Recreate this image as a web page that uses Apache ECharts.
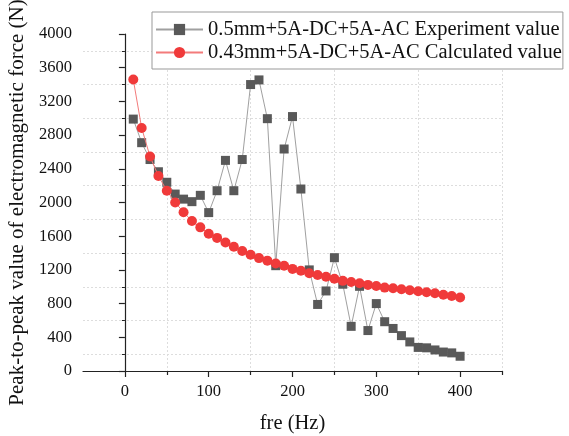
<!DOCTYPE html>
<html>
<head>
<meta charset="utf-8">
<script src="https://cdn.jsdelivr.net/npm/echarts@6/dist/echarts.min.js"></script>
<style>html,body{margin:0;padding:0;background:#fff}#c{width:569px;height:436px}</style>
</head>
<body>
<div id="c"></div>
<script>
var freq = [10,20,30,40,50,60,70,80,90,100,110,120,130,140,150,160,170,180,190,200,210,220,230,240,250,260,270,280,290,300,310,320,330,340,350,360,370,380,390,400];
var experimentValues = [2990,2710,2510,2365,2240,2100,2040,2010,2085,1880,2140,2500,2140,2510,3400,3455,2995,1250,2635,3020,2160,1200,790,950,1345,1030,530,1005,480,800,585,505,420,345,280,275,250,225,215,175];
var calculatedValues = [3460,2885,2545,2315,2140,2000,1885,1780,1705,1630,1580,1525,1475,1425,1380,1340,1310,1275,1250,1212,1190,1160,1140,1118,1096,1070,1056,1041,1022,1009,990,982,970,958,946,934,922,906,890,872];
var xLabelValues = [0,100,200,300,400];
var xMinorValues = [50,150,250,350,450];
var seriesNames = ['0.5mm+5A-DC+5A-AC Experiment value','0.43mm+5A-DC+5A-AC Calculated value'];

function pairs(xs, ys){ return xs.map(function(x,i){ return [x, ys[i]]; }); }
function plain(v){ return String(v); }

var font = 'Liberation Serif';
var chart = echarts.init(document.getElementById('c'), null, {renderer:'canvas'});
chart.setOption({
  animation: false,
  backgroundColor: '#fff',
  textStyle: {fontFamily: font},
  grid: {left: 83, top: 34, right: 67, bottom: 65, outerBoundsMode: 'none', containLabel: false},
  legend: {
    orient: 'vertical', left: 152, top: 12,
    padding: [7, 1, 6, 3],
    itemWidth: 47, itemHeight: 14, itemGap: 2,
    backgroundColor: '#fff', borderColor: '#999', borderWidth: 1,
    textStyle: {fontFamily: font, fontSize: 20.5, color: '#111', lineHeight: 20, height: 20},
    data: seriesNames
  },
  xAxis: [{
    type: 'value', min: -50, max: 450,
    name: 'fre (Hz)', nameLocation: 'middle', nameGap: 42,
    nameTextStyle: {fontFamily: font, fontSize: 20.5, color: '#111'},
    axisLine: {show: true, onZero: false, lineStyle: {color: '#222', width: 1.2}},
    axisTick: {show: true, customValues: xLabelValues, length: 6, lineStyle: {color: '#222', width: 1.2}},
    axisLabel: {customValues: xLabelValues, formatter: plain, fontFamily: font, fontSize: 16.5, color: '#111', margin: 12},
    splitLine: {show: false}
  }, {
    type: 'value', min: -50, max: 450, position: 'bottom',
    axisLine: {show: false},
    axisTick: {show: true, customValues: xMinorValues, length: 4, lineStyle: {color: '#222', width: 1.2}},
    axisLabel: {show: false},
    splitLine: {show: true, lineStyle: {color: '#ddd', type: [2, 2], width: 1}}
  }],
  yAxis: {
    type: 'value', min: 0, max: 4000, interval: 400,
    name: 'Peak-to-peak value of electromagnetic force (N)', nameLocation: 'middle', nameGap: 52,
    nameTextStyle: {fontFamily: font, fontSize: 21, color: '#111'},
    axisLine: {show: true, lineStyle: {color: '#222', width: 1.2}},
    axisTick: {show: true, length: 6, lineStyle: {color: '#222', width: 1.2}},
    minorTick: {show: true, splitNumber: 2, length: 3, lineStyle: {color: '#222', width: 1}},
    axisLabel: {formatter: plain, fontFamily: font, fontSize: 16.5, color: '#111', margin: 11},
    splitLine: {show: false},
    minorSplitLine: {show: true, lineStyle: {color: '#ddd', type: [2, 2], width: 1}}
  },
  series: [{
    name: seriesNames[0], type: 'line', xAxisIndex: 0,
    data: pairs(freq, experimentValues),
    symbol: 'rect', symbolSize: 9,
    itemStyle: {color: '#595959'},
    lineStyle: {color: '#a0a0a0', width: 1},
    z: 3
  }, {
    name: seriesNames[1], type: 'line', xAxisIndex: 0,
    data: pairs(freq, calculatedValues),
    symbol: 'circle', symbolSize: 10,
    itemStyle: {color: '#f03a3a'},
    lineStyle: {color: '#f37b7b', width: 1},
    z: 4
  }]
});
</script>
</body>
</html>
